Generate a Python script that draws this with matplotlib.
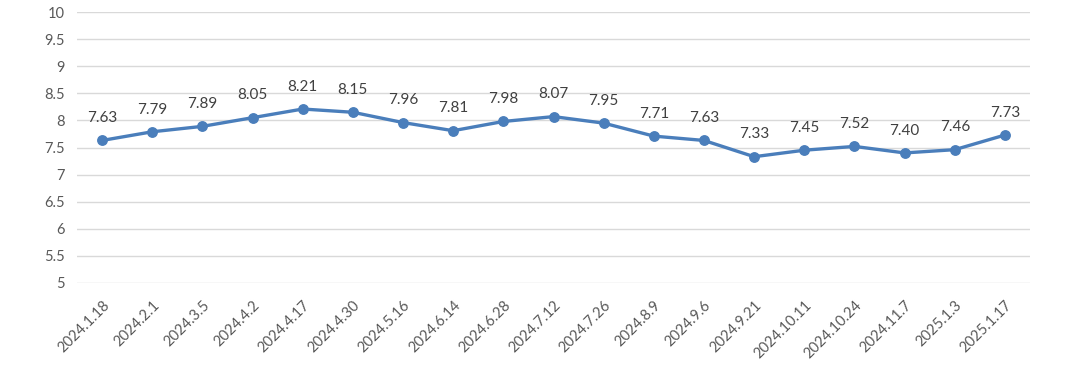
import matplotlib
matplotlib.use("Agg")
import matplotlib.pyplot as plt

dates = ["2024.1.18", "2024.2.1", "2024.3.5", "2024.4.2", "2024.4.17", "2024.4.30",
         "2024.5.16", "2024.6.14", "2024.6.28", "2024.7.12", "2024.7.26", "2024.8.9",
         "2024.9.6", "2024.9.21", "2024.10.11", "2024.10.24", "2024.11.7", "2025.1.3",
         "2025.1.17"]
values = [7.63, 7.79, 7.89, 8.05, 8.21, 8.15, 7.96, 7.81, 7.98, 8.07, 7.95, 7.71,
          7.63, 7.33, 7.45, 7.52, 7.40, 7.46, 7.73]
yticks = [5, 5.5, 6, 6.5, 7, 7.5, 8, 8.5, 9, 9.5, 10]
ytick_labels = ["5", "5.5", "6", "6.5", "7", "7.5", "8", "8.5", "9", "9.5", "10"]

plt.rcParams['font.family'] = ['Lato', 'DejaVu Sans']
W, H = 1080, 370
fig = plt.figure(figsize=(W / 100, H / 100), dpi=100)
ax = fig.add_axes([77 / W, 1 - 283 / H, (1030 - 77) / W, (283 - 12) / H])

color = "#4a7ebb"
x = list(range(len(dates)))
ax.plot(x, values, color=color, linewidth=2.4, marker="o", markersize=6.8,
        markerfacecolor=color, markeredgecolor=color, zorder=3)
for xi, v in zip(x, values):
    ax.annotate(f"{v:.2f}", (xi, v), xytext=(0, 11), textcoords="offset points",
                ha="center", va="bottom", fontsize=11, color="#404040")

ax.set_xlim(-0.5, len(dates) - 0.5)
ax.set_ylim(5, 10)
ax.set_yticks(yticks)
ax.set_yticklabels(ytick_labels)
ax.set_xticks(x)
ax.set_xticklabels(dates, rotation=45, ha="right", rotation_mode="anchor")
ax.grid(axis="y", color="#d9d9d9", linewidth=1)
ax.set_axisbelow(True)
for s in ax.spines.values():
    s.set_visible(False)
ax.tick_params(axis="both", length=0, labelsize=10.5, labelcolor="#595959")
ax.tick_params(axis="y", pad=9)
ax.tick_params(axis="x", pad=11)

fig.savefig("out.png", dpi=100, facecolor="white")
